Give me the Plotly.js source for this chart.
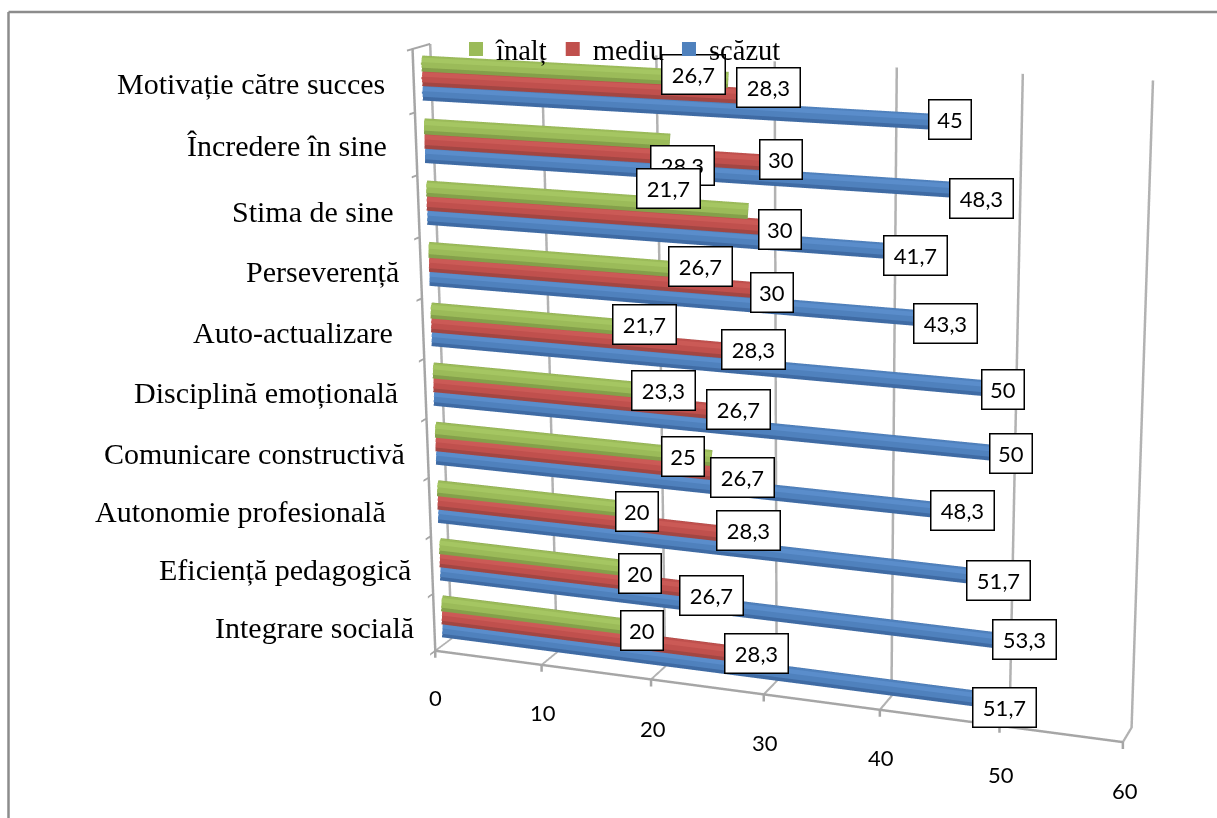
<!DOCTYPE html><html><head><script src="https://cdn.plot.ly/plotly-3.0.0.min.js"></script><style>html,body{margin:0;width:1217px;height:818px;overflow:hidden;background:#fff}#c{position:absolute;left:0;top:-747px;width:1577px;height:2211px}</style></head><body><div id="c"></div><script>
// Survey results per competence, bottom row first, in percent
const categories=['Integrare socială','Eficiență pedagogică','Autonomie profesională','Comunicare constructivă','Disciplină emoțională','Auto-actualizare','Perseverență','Stima de sine','Încredere în sine','Motivație către succes'];
const inalt=[20,20,20,25,23.3,21.7,26.7,28.3,21.7,26.7];
const mediu=[28.3,26.7,28.3,26.7,26.7,28.3,30,30,30,28.3];
const scazut=[51.7,53.3,51.7,48.3,50,50,43.3,41.7,48.3,45];
const valueTicks=[0,10,20,30,40,50,60];

// Pixel nudges of the hand-placed labels relative to what they annotate
const tickShift=[[0,-47],[1,-48],[2,-49],[1,-48],[1,-48],[2,-49],[2,-48]];
const catShift=[[-18,-5],[-19,-5],[-42,-5],[-21,-5],[-25,-4],[-28,-4],[-20,-4],[-22,-5],[-27,-2],[-27,-3]];
const inaltShift=[[-16,0],[-17,-2],[-19,1],[-29,2],[-28,4],[-28,7],[-29,7],[-66,46],[-1,-47],[-35,5]];
const mediuShift=[[6,2],[-21,-1],[-2,6],[11,-3],[8,3],[4,3],[3,-1],[12,-2],[13,3],[21,9]];
const scazutShift=[[-21,-3],[-22,7],[-30,2],[-25,5],[1,1],[-8,1],[16,-5],[5,-3],[-12,-6],[-3,3]];

// The figure is larger than the window and offset so the perspective centre sits right of and above the middle
const FIG_W=1577,FIG_H=2211,FIG_TOP=-747;
const toX=px=>px/FIG_W,toY=py=>1-(py-FIG_TOP)/FIG_H;

const BAR_DEPTH=.5,ROW={inalt:.73,mediu:.5,scazut:.27};
const FRAME='#a6a6a6';
const traces=[];
// Each bar is three stacked strokes: shaded underside, body, highlight
function addBars(vals,row,under,body,light){
 [[under,32,0,.5],[body,24,.03,.49],[light,9,.06,.48]].forEach(layer=>{
  const x=[],y=[],z=[];
  vals.forEach((v,i)=>{x.push(0,v,null);y.push(layer[3],layer[3],null);const h=i+row+layer[2];z.push(h,h,null);});
  traces.push({type:'scatter3d',mode:'lines',x,y,z,line:{color:layer[0],width:layer[1]},showlegend:false,hoverinfo:'skip'});
 });
}
addBars(inalt,ROW.inalt,'#84a04a','#9bbb59','#a5c662');
addBars(mediu,ROW.mediu,'#a24643','#c0504d','#cb5a56');
addBars(scazut,ROW.scazut,'#3f6ba4','#4f81bd','#5a8dcb');
[['înalț','#9bbb59',ROW.inalt],['mediu','#c0504d',ROW.mediu],['scăzut','#4f81bd',ROW.scazut]].forEach(s=>traces.push({
 type:'scatter3d',mode:'markers',name:s[0],x:[0],y:[BAR_DEPTH],z:[9+s[2]],
 marker:{symbol:'square',size:1,color:s[1],line:{color:s[1],width:3}},hoverinfo:'skip'}));
// Short rim joining the two left uprights at the top
traces.push({type:'scatter3d',mode:'lines',x:[0,0],y:[0,1],z:[10,10],line:{color:FRAME,width:4},showlegend:false,hoverinfo:'skip'});

const numFont={family:'Lato',size:22,color:'#000'},serifFont={family:'Liberation Serif',size:30,color:'#000'};
const decimal=v=>String(v).replace('.',',');
const annotations=[];
valueTicks.forEach((v,i)=>{
 // Small tick hanging straight down from the value axis, then its number
 annotations.push({x:v,y:0,z:0,text:' ',showarrow:true,ax:0,ay:9,arrowhead:0,arrowcolor:FRAME,arrowwidth:2.5,standoff:0,font:{size:1}});
 annotations.push({x:v,y:0,z:0,text:String(v),showarrow:false,xshift:tickShift[i][0],yshift:tickShift[i][1],font:numFont});
});
categories.forEach((c,i)=>annotations.push({x:0,y:0,z:i+.5,text:c,showarrow:false,xanchor:'right',xshift:catShift[i][0],yshift:catShift[i][1],font:serifFont}));
[[inalt,inaltShift,ROW.inalt],[mediu,mediuShift,ROW.mediu],[scazut,scazutShift,ROW.scazut]].forEach(s=>{
 s[0].forEach((v,i)=>{const t=decimal(v);annotations.push({x:v,y:BAR_DEPTH,z:i+s[2],text:t,showarrow:false,xshift:s[1][i][0],yshift:s[1][i][1],font:numFont,
  bgcolor:'#fff',bordercolor:'#000',borderwidth:1.5,borderpad:1,width:t.length>2?60:39,height:36});});
});

const axisBase={showbackground:false,showspikes:false,showticklabels:false,zeroline:false,title:{text:''},showline:true,linecolor:FRAME,linewidth:5,ticks:'outside',ticklen:10,tickcolor:FRAME,tickwidth:4};
const layout={width:FIG_W,height:FIG_H,margin:{l:0,r:0,t:0,b:0},paper_bgcolor:'#fff',showlegend:true,
 legend:{orientation:'h',x:toX(456),y:toY(24),xanchor:'left',yanchor:'top',font:{family:'Liberation Serif',size:28.5,color:'#000'},itemsizing:'constant',bgcolor:'rgba(0,0,0,0)'},
 shapes:[
  {type:'line',xref:'paper',yref:'paper',x0:toX(8.5),x1:toX(1217),y0:toY(12),y1:toY(12),line:{color:'#8c8c8c',width:2.5}},
  {type:'line',xref:'paper',yref:'paper',x0:toX(8.5),x1:toX(8.5),y0:toY(12),y1:toY(818),line:{color:'#8c8c8c',width:2.5}}],
 scene:{domain:{x:[0,1],y:[0,1]},aspectmode:'manual',aspectratio:{x:1,y:.0519,z:.8628},
  camera:{eye:{x:1.1818,y:-3.2295,z:.9412},center:{x:-.0014,y:.0812,z:.017},up:{x:-.1897,y:.5371,z:1}},
  annotations,
  xaxis:Object.assign({},axisBase,{range:[0,60],tickvals:valueTicks,ticks:'',showgrid:true,gridcolor:'#b2b2b2',gridwidth:5}),
  yaxis:Object.assign({},axisBase,{range:[0,1],showgrid:false,ticks:'',showline:false}),
  zaxis:Object.assign({},axisBase,{range:[0,10],tickvals:[0,1,2,3,4,5,6,7,8,9,10],showgrid:false})}};
Plotly.newPlot('c',traces,layout,{displayModeBar:false}).then(gd=>{
 // Keep the legend above the value boxes
 const lg=gd.querySelector('.legend');if(lg)lg.parentNode.appendChild(lg);
});
</script></body></html>
